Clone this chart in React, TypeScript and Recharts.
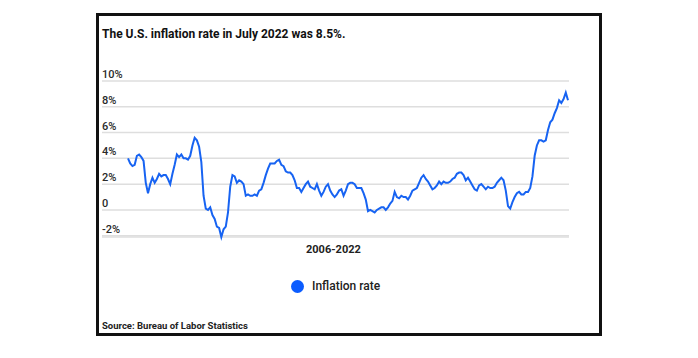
import React from 'react';
import { LineChart, Line, XAxis, YAxis, CartesianGrid } from 'recharts';

const years = [2006, 2007, 2008, 2009, 2010, 2011, 2012, 2013, 2014, 2015, 2016, 2017, 2018, 2019, 2020, 2021, 2022];
const months = ['01', '02', '03', '04', '05', '06', '07', '08', '09', '10', '11', '12'];
const inflationRate = [
  4.0, 3.6, 3.4, 3.5, 4.2, 4.3, 4.1, 3.8, 2.1, 1.3, 2.0, 2.5,
  2.1, 2.4, 2.8, 2.6, 2.7, 2.7, 2.4, 2.0, 2.8, 3.5, 4.3, 4.1,
  4.3, 4.0, 4.0, 3.9, 4.2, 5.0, 5.6, 5.4, 4.9, 3.7, 1.1, 0.1,
  0.0, 0.2, -0.4, -0.7, -1.3, -1.4, -2.1, -1.5, -1.3, -0.2, 1.8, 2.7,
  2.6, 2.1, 2.3, 2.2, 2.0, 1.1, 1.2, 1.1, 1.1, 1.2, 1.1, 1.5,
  1.6, 2.1, 2.7, 3.2, 3.6, 3.6, 3.6, 3.8, 3.9, 3.5, 3.4, 3.0,
  2.9, 2.9, 2.7, 2.3, 1.7, 1.7, 1.4, 1.7, 2.0, 2.2, 1.8, 1.7,
  1.6, 2.0, 1.5, 1.1, 1.4, 1.8, 2.0, 1.5, 1.2, 1.0, 1.2, 1.5,
  1.6, 1.1, 1.5, 2.0, 2.1, 2.1, 2.0, 1.7, 1.7, 1.7, 1.3, 0.8,
  -0.1, 0.0, -0.1, -0.2, 0.0, 0.1, 0.2, 0.2, 0.0, 0.2, 0.5, 0.7,
  1.4, 1.0, 0.9, 1.1, 1.0, 1.0, 0.8, 1.1, 1.5, 1.6, 1.7, 2.1,
  2.5, 2.7, 2.4, 2.2, 1.9, 1.6, 1.7, 1.9, 2.2, 2.0, 2.2, 2.1,
  2.1, 2.2, 2.4, 2.5, 2.8, 2.9, 2.9, 2.7, 2.3, 2.5, 2.2, 1.9,
  1.6, 1.5, 1.9, 2.0, 1.8, 1.6, 1.8, 1.7, 1.7, 1.8, 2.1, 2.3,
  2.5, 2.3, 1.5, 0.3, 0.1, 0.6, 1.0, 1.3, 1.4, 1.2, 1.2, 1.4,
  1.4, 1.7, 2.6, 4.2, 5.0, 5.4, 5.4, 5.3, 5.4, 6.2, 6.8, 7.0,
  7.5, 7.9, 8.5, 8.3, 8.6, 9.1, 8.5,
];
const yTicks = [-2, 0, 2, 4, 6, 8, 10];
const yTickLabels = ['-2%', '0', '2%', '4%', '6%', '8%', '10%'];

const categories: string[] = [];
years.forEach((y) => months.forEach((m) => categories.push(`${y}-${m}`)));
const data = inflationRate.map((v, i) => ({ month: categories[i], rate: v }));

const FONT = 'Roboto, "Noto Sans", Arial, sans-serif';
const LINE_COLOR = '#1763f2';
const PLOT_LEFT = 102;

const renderYTick = (props: any) => {
  const { y, payload } = props;
  const idx = yTicks.indexOf(payload.value);
  return (
    <text key={`t${payload.value}`} x={PLOT_LEFT} y={y - 3} textAnchor="start" fontFamily={FONT} fontSize={11} fontWeight={500} fill="#2a2a2a">
      {yTickLabels[idx]}
    </text>
  );
};

export default function App() {
  return (
    <div style={{ position: 'absolute', left: 0, top: 0, width: 698, height: 358, background: '#fff', fontFamily: FONT }}>
      <div style={{ position: 'absolute', left: 96, top: 13, width: 500, height: 317, border: '3px solid #111' }} />
      <div style={{ position: 'absolute', left: 0, top: 0 }}>
        <LineChart width={698} height={358} data={data} margin={{ top: 81, right: 129, bottom: 121, left: PLOT_LEFT - 2 }}>
          <CartesianGrid vertical={false} stroke="#dedede" strokeWidth={1.5} />
          <XAxis dataKey="month" hide padding={{ left: 26, right: 1 }} />
          <YAxis
            domain={[-2, 10]}
            ticks={yTicks}
            width={2}
            axisLine={false}
            tickLine={false}
            tick={renderYTick}
            interval={0}
          />
          <Line type="linear" dataKey="rate" stroke={LINE_COLOR} strokeWidth={2} dot={false} isAnimationActive={false} />
        </LineChart>
      </div>
      <div style={{ position: 'absolute', left: 102, top: 27, fontSize: 12, fontWeight: 700, color: '#111', whiteSpace: 'nowrap' }}>
        The U.S. inflation rate in July 2022 was 8.5%.
      </div>
      <div style={{ position: 'absolute', left: 306, top: 243, fontSize: 11, fontWeight: 700, color: '#222', whiteSpace: 'nowrap' }}>
        2006-2022
      </div>
      <div style={{ position: 'absolute', left: 291, top: 280, width: 13, height: 13, borderRadius: '50%', background: '#0b5cff' }} />
      <div style={{ position: 'absolute', left: 312, top: 279, fontSize: 12, fontWeight: 500, color: '#222', whiteSpace: 'nowrap' }}>
        Inflation rate
      </div>
      <div style={{ position: 'absolute', left: 102, top: 320, fontSize: 9.5, fontWeight: 700, color: '#222', whiteSpace: 'nowrap' }}>
        Source: Bureau of Labor Statistics
      </div>
    </div>
  );
}
